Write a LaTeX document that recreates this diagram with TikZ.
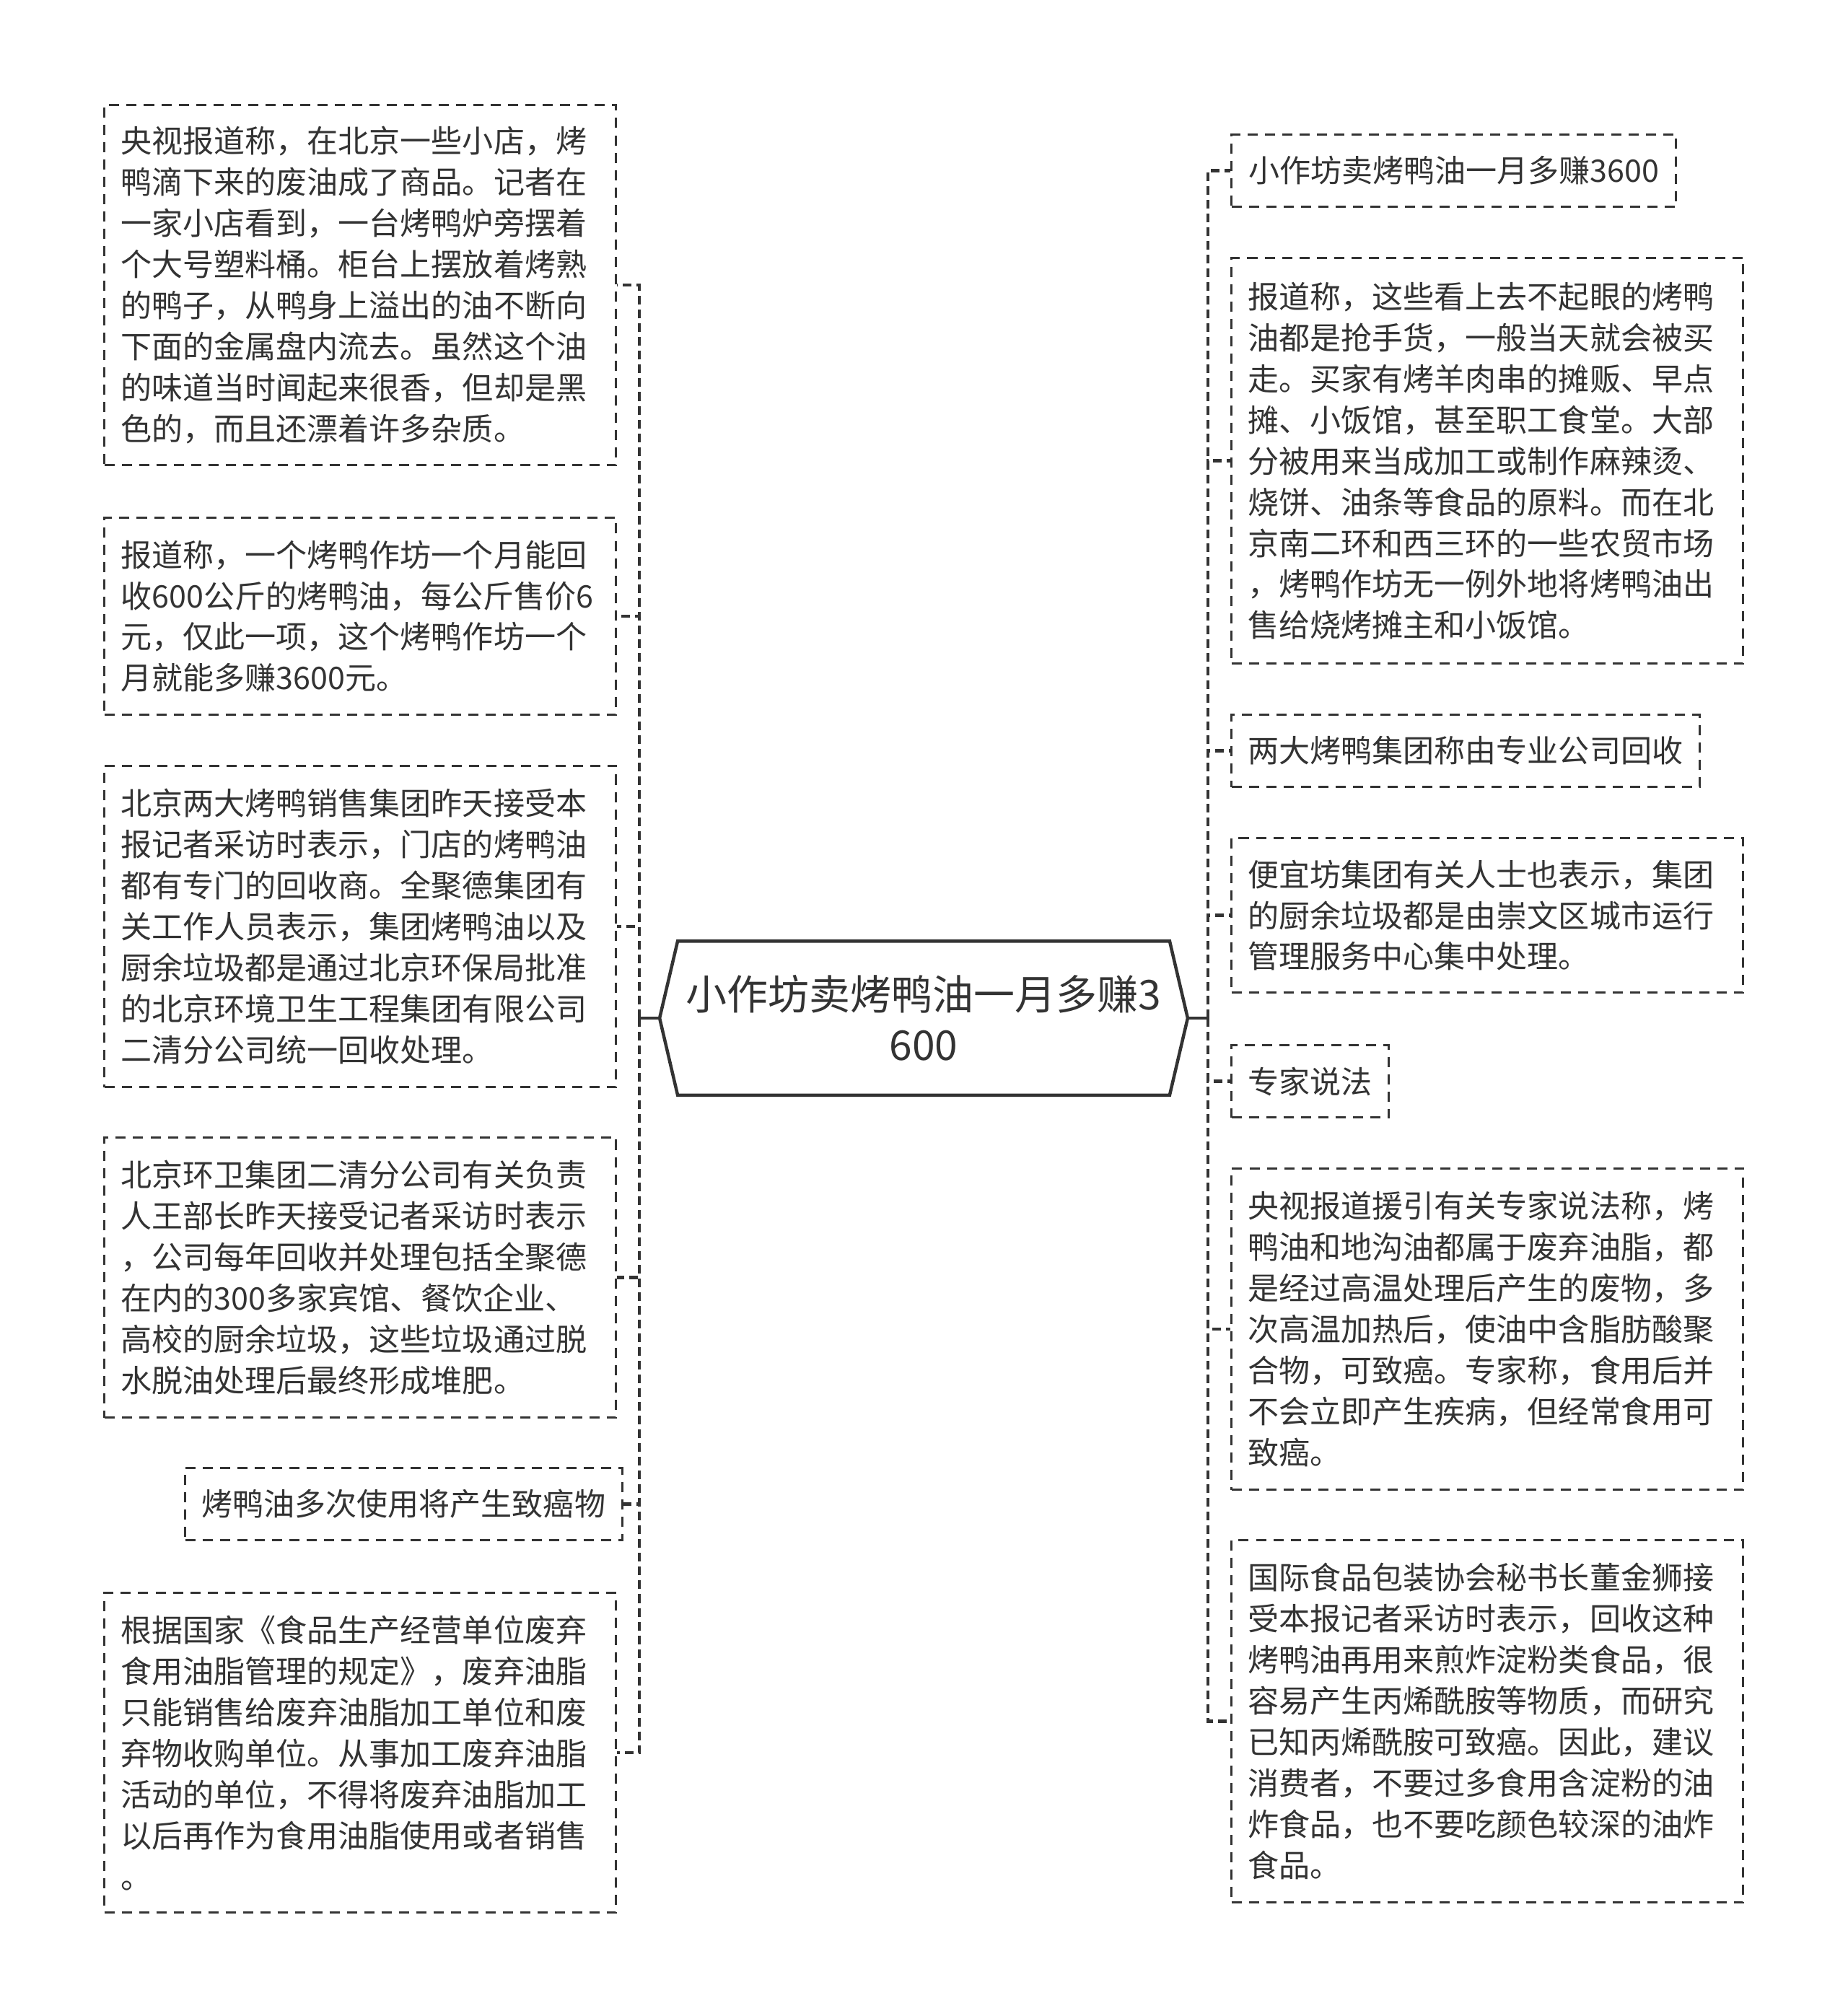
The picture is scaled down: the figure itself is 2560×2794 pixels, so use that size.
\documentclass[tikz,border=0pt]{standalone}
\usepackage{fontspec}
\setmainfont{Noto Sans CJK SC}
\definecolor{ink}{HTML}{333333}
\begin{document}
\begin{tikzpicture}[x=0.01cm,y=-0.01cm,
  box/.style={draw=ink, text=ink, line width=0.03cm, dash pattern=on 0.14cm off 0.1cm,
    anchor=north west, inner xsep=0.23cm, inner ysep=0cm, align=left,
    font=\fontsize{12.24pt}{16.2pt}\selectfont},
  conn/.style={draw=ink, line width=0.045cm, dash pattern=on 0.12cm off 0.07cm},
  solidconn/.style={draw=ink, line width=0.045cm}]
\fill[white] (0,0) rectangle (2560,2794);

% central node
\node[minimum width=7.3cm, minimum height=2.12cm, inner sep=0cm, align=center, text=ink,
  font=\fontsize{16.2pt}{19.84pt}\selectfont] (C) at (1280,1411) {小作坊卖烤鸭油一月多赚3\\600};
\draw[ink, line width=0.045cm, line join=miter] (C.west) -- ([xshift=0.25cm]C.north west) -- ([xshift=-0.25cm]C.north east) -- (C.east) -- ([xshift=-0.25cm]C.south east) -- ([xshift=0.25cm]C.south west) -- cycle;

% left boxes
\node[box, text width=6.63cm, minimum height=4.99cm] (L1) at (143,144) {央视报道称，在北京一些小店，烤\\鸭滴下来的废油成了商品。记者在\\一家小店看到，一台烤鸭炉旁摆着\\个大号塑料桶。柜台上摆放着烤熟\\的鸭子，从鸭身上溢出的油不断向\\下面的金属盘内流去。虽然这个油\\的味道当时闻起来很香，但却是黑\\色的，而且还漂着许多杂质。};
\node[box, text width=6.63cm, minimum height=2.73cm] (L2) at (143,716) {报道称，一个烤鸭作坊一个月能回\\收600公斤的烤鸭油，每公斤售价6\\元，仅此一项，这个烤鸭作坊一个\\月就能多赚3600元。};
\node[box, text width=6.63cm, minimum height=4.45cm] (L3) at (143,1060) {北京两大烤鸭销售集团昨天接受本\\报记者采访时表示，门店的烤鸭油\\都有专门的回收商。全聚德集团有\\关工作人员表示，集团烤鸭油以及\\厨余垃圾都是通过北京环保局批准\\的北京环境卫生工程集团有限公司\\二清分公司统一回收处理。};
\node[box, text width=6.63cm, minimum height=3.88cm] (L4) at (143,1575) {北京环卫集团二清分公司有关负责\\人王部长昨天接受记者采访时表示\\，公司每年回收并处理包括全聚德\\在内的300多家宾馆、餐饮企业、\\高校的厨余垃圾，这些垃圾通过脱\\水脱油处理后最终形成堆肥。};
\node[box, minimum width=5.99cm, minimum height=1cm] (L5) at (255,2033) {烤鸭油多次使用将产生致癌物};
\node[box, text width=6.63cm, minimum height=4.43cm] (L6) at (143,2206) {根据国家《食品生产经营单位废弃\\食用油脂管理的规定》，废弃油脂\\只能销售给废弃油脂加工单位和废\\弃物收购单位。从事加工废弃油脂\\活动的单位，不得将废弃油脂加工\\以后再作为食用油脂使用或者销售\\。};

% right boxes
\node[box, minimum width=6.16cm, minimum height=1cm] (R1) at (1705,185) {小作坊卖烤鸭油一月多赚3600};
\node[box, text width=6.63cm, minimum height=5.62cm] (R2) at (1705,356) {报道称，这些看上去不起眼的烤鸭\\油都是抢手货，一般当天就会被买\\走。买家有烤羊肉串的摊贩、早点\\摊、小饭馆，甚至职工食堂。大部\\分被用来当成加工或制作麻辣烫、\\烧饼、油条等食品的原料。而在北\\京南二环和西三环的一些农贸市场\\，烤鸭作坊无一例外地将烤鸭油出\\售给烧烤摊主和小饭馆。};
\node[box, minimum width=6.42cm, minimum height=1cm] (R3) at (1705,989) {两大烤鸭集团称由专业公司回收};
\node[box, text width=6.63cm, minimum height=2.14cm] (R4) at (1705,1160) {便宜坊集团有关人士也表示，集团\\的厨余垃圾都是由崇文区城市运行\\管理服务中心集中处理。};
\node[box, minimum width=2.14cm, minimum height=1cm] (R5) at (1705,1447) {专家说法};
\node[box, text width=6.63cm, minimum height=4.45cm] (R6) at (1705,1618) {央视报道援引有关专家说法称，烤\\鸭油和地沟油都属于废弃油脂，都\\是经过高温处理后产生的废物，多\\次高温加热后，使油中含脂肪酸聚\\合物，可致癌。专家称，食用后并\\不会立即产生疾病，但经常食用可\\致癌。};
\node[box, text width=6.63cm, minimum height=5.02cm] (R7) at (1705,2133) {国际食品包装协会秘书长董金狮接\\受本报记者采访时表示，回收这种\\烤鸭油再用来煎炸淀粉类食品，很\\容易产生丙烯酰胺等物质，而研究\\已知丙烯酰胺可致癌。因此，建议\\消费者，不要过多食用含淀粉的油\\炸食品，也不要吃颜色较深的油炸\\食品。};

% connectors
\coordinate (TL) at (886,1411);
\coordinate (TR) at (1674,1411);
\draw[solidconn] (C.west) -- (TL);
\draw[solidconn] ([yshift=-0.1cm]TL) -- ([yshift=0.1cm]TL);
\draw[solidconn] (C.east) -- (TR);
\draw[solidconn] ([yshift=-0.1cm]TR) -- ([yshift=0.1cm]TR);
\foreach \n in {L1,L2,L3,L4,L5,L6}{\draw[conn] (TL) |- (\n.east);}
\foreach \n in {R1,R2,R3,R4,R5,R6,R7}{\draw[conn] (TR) |- (\n.west);}
\end{tikzpicture}
\end{document}
